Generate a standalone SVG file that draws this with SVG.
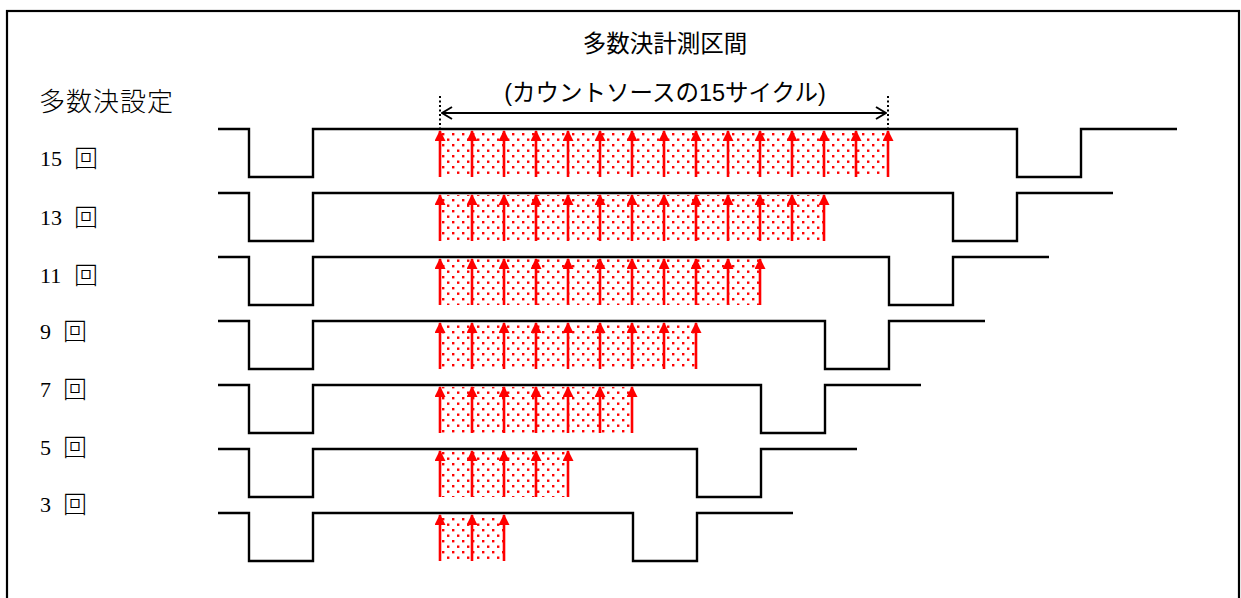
<svg xmlns="http://www.w3.org/2000/svg" width="1241" height="598" viewBox="0 0 1241 598">
<style>
.wave{fill:none;stroke:#000;stroke-width:2.4;stroke-linejoin:miter}
.clk{stroke:#f00;stroke-width:2.6;fill:none}
.lbl{font-family:"Liberation Serif","Noto Sans CJK JP",serif;font-size:22px;fill:#000}
.k{font-family:"Noto Sans CJK JP",serif;font-size:24px;font-weight:300}
.hdr{font-family:"Noto Sans CJK JP","Liberation Serif",serif;font-size:26px;font-weight:300;letter-spacing:1px;fill:#000}
.ttl{font-family:"Liberation Sans","Noto Sans CJK JP",sans-serif;font-size:23.5px;fill:#000;text-anchor:middle}
.dot{stroke:#000;stroke-width:2;stroke-dasharray:2,2.5}
.dim{stroke:#000;stroke-width:2.2;fill:none}
</style>
<defs>
<pattern id="dots" width="10" height="11" patternUnits="userSpaceOnUse" x="440" y="0">
<rect x="2" y="1" width="2.4" height="2.4" fill="#f00"/>
<rect x="7" y="6.5" width="2.4" height="2.4" fill="#f00"/>
</pattern>
<marker id="ah" viewBox="0 0 10 10" refX="9" refY="5" markerWidth="12" markerHeight="11" markerUnits="userSpaceOnUse" orient="auto">
<path d="M0,0 L10,5 L0,10 Z" fill="#f00"/>
</marker>
<marker id="open" viewBox="0 0 12 14" refX="11" refY="7" markerWidth="12" markerHeight="14" markerUnits="userSpaceOnUse" orient="auto-start-reverse">
<path d="M1,1 L11,7 L1,13" fill="none" stroke="#000" stroke-width="2"/>
</marker>
</defs>
<rect x="7" y="11" width="1232" height="600" fill="#fff" stroke="#000" stroke-width="2.2"/>
<g id="titles">
<text class="ttl" x="665" y="52">多数決計測区間</text>
<text class="ttl" x="665" y="101">(カウントソースの15サイクル)</text>
<text class="hdr" x="39" y="111">多数決設定</text>
</g>
<g id="dimension">
<line class="dot" x1="440" y1="96" x2="440" y2="128"/>
<line class="dot" x1="888" y1="96" x2="888" y2="128"/>
<line class="dim" x1="442" y1="113" x2="886" y2="113" marker-start="url(#open)" marker-end="url(#open)"/>
</g>
<g id="row15">
<text class="lbl" x="40" y="166">15<tspan class="k" x="74" y="167">回</tspan></text>
<rect x="440" y="131" width="448" height="46" fill="url(#dots)"/>
<path class="wave" d="M218,129 H249 V177 H313 V129 H1017 V177 H1081 V129 H1177"/>
<g class="clk"><line x1="440" y1="177" x2="440" y2="131" marker-end="url(#ah)"/><line x1="472" y1="177" x2="472" y2="131" marker-end="url(#ah)"/><line x1="504" y1="177" x2="504" y2="131" marker-end="url(#ah)"/><line x1="536" y1="177" x2="536" y2="131" marker-end="url(#ah)"/><line x1="568" y1="177" x2="568" y2="131" marker-end="url(#ah)"/><line x1="600" y1="177" x2="600" y2="131" marker-end="url(#ah)"/><line x1="632" y1="177" x2="632" y2="131" marker-end="url(#ah)"/><line x1="664" y1="177" x2="664" y2="131" marker-end="url(#ah)"/><line x1="696" y1="177" x2="696" y2="131" marker-end="url(#ah)"/><line x1="728" y1="177" x2="728" y2="131" marker-end="url(#ah)"/><line x1="760" y1="177" x2="760" y2="131" marker-end="url(#ah)"/><line x1="792" y1="177" x2="792" y2="131" marker-end="url(#ah)"/><line x1="824" y1="177" x2="824" y2="131" marker-end="url(#ah)"/><line x1="856" y1="177" x2="856" y2="131" marker-end="url(#ah)"/><line x1="888" y1="177" x2="888" y2="131" marker-end="url(#ah)"/></g>
</g>
<g id="row13">
<text class="lbl" x="40" y="225">13<tspan class="k" x="74" y="226">回</tspan></text>
<rect x="440" y="195" width="384" height="46" fill="url(#dots)"/>
<path class="wave" d="M218,193 H249 V241 H313 V193 H953 V241 H1017 V193 H1113"/>
<g class="clk"><line x1="440" y1="241" x2="440" y2="195" marker-end="url(#ah)"/><line x1="472" y1="241" x2="472" y2="195" marker-end="url(#ah)"/><line x1="504" y1="241" x2="504" y2="195" marker-end="url(#ah)"/><line x1="536" y1="241" x2="536" y2="195" marker-end="url(#ah)"/><line x1="568" y1="241" x2="568" y2="195" marker-end="url(#ah)"/><line x1="600" y1="241" x2="600" y2="195" marker-end="url(#ah)"/><line x1="632" y1="241" x2="632" y2="195" marker-end="url(#ah)"/><line x1="664" y1="241" x2="664" y2="195" marker-end="url(#ah)"/><line x1="696" y1="241" x2="696" y2="195" marker-end="url(#ah)"/><line x1="728" y1="241" x2="728" y2="195" marker-end="url(#ah)"/><line x1="760" y1="241" x2="760" y2="195" marker-end="url(#ah)"/><line x1="792" y1="241" x2="792" y2="195" marker-end="url(#ah)"/><line x1="824" y1="241" x2="824" y2="195" marker-end="url(#ah)"/></g>
</g>
<g id="row11">
<text class="lbl" x="40" y="283">11<tspan class="k" x="74" y="284">回</tspan></text>
<rect x="440" y="259" width="320" height="46" fill="url(#dots)"/>
<path class="wave" d="M218,257 H249 V305 H313 V257 H889 V305 H953 V257 H1049"/>
<g class="clk"><line x1="440" y1="305" x2="440" y2="259" marker-end="url(#ah)"/><line x1="472" y1="305" x2="472" y2="259" marker-end="url(#ah)"/><line x1="504" y1="305" x2="504" y2="259" marker-end="url(#ah)"/><line x1="536" y1="305" x2="536" y2="259" marker-end="url(#ah)"/><line x1="568" y1="305" x2="568" y2="259" marker-end="url(#ah)"/><line x1="600" y1="305" x2="600" y2="259" marker-end="url(#ah)"/><line x1="632" y1="305" x2="632" y2="259" marker-end="url(#ah)"/><line x1="664" y1="305" x2="664" y2="259" marker-end="url(#ah)"/><line x1="696" y1="305" x2="696" y2="259" marker-end="url(#ah)"/><line x1="728" y1="305" x2="728" y2="259" marker-end="url(#ah)"/><line x1="760" y1="305" x2="760" y2="259" marker-end="url(#ah)"/></g>
</g>
<g id="row9">
<text class="lbl" x="40" y="339">9<tspan class="k" x="63" y="340">回</tspan></text>
<rect x="440" y="323" width="256" height="46" fill="url(#dots)"/>
<path class="wave" d="M218,321 H249 V369 H313 V321 H825 V369 H889 V321 H985"/>
<g class="clk"><line x1="440" y1="369" x2="440" y2="323" marker-end="url(#ah)"/><line x1="472" y1="369" x2="472" y2="323" marker-end="url(#ah)"/><line x1="504" y1="369" x2="504" y2="323" marker-end="url(#ah)"/><line x1="536" y1="369" x2="536" y2="323" marker-end="url(#ah)"/><line x1="568" y1="369" x2="568" y2="323" marker-end="url(#ah)"/><line x1="600" y1="369" x2="600" y2="323" marker-end="url(#ah)"/><line x1="632" y1="369" x2="632" y2="323" marker-end="url(#ah)"/><line x1="664" y1="369" x2="664" y2="323" marker-end="url(#ah)"/><line x1="696" y1="369" x2="696" y2="323" marker-end="url(#ah)"/></g>
</g>
<g id="row7">
<text class="lbl" x="40" y="397">7<tspan class="k" x="63" y="398">回</tspan></text>
<rect x="440" y="387" width="192" height="46" fill="url(#dots)"/>
<path class="wave" d="M218,385 H249 V433 H313 V385 H761 V433 H825 V385 H921"/>
<g class="clk"><line x1="440" y1="433" x2="440" y2="387" marker-end="url(#ah)"/><line x1="472" y1="433" x2="472" y2="387" marker-end="url(#ah)"/><line x1="504" y1="433" x2="504" y2="387" marker-end="url(#ah)"/><line x1="536" y1="433" x2="536" y2="387" marker-end="url(#ah)"/><line x1="568" y1="433" x2="568" y2="387" marker-end="url(#ah)"/><line x1="600" y1="433" x2="600" y2="387" marker-end="url(#ah)"/><line x1="632" y1="433" x2="632" y2="387" marker-end="url(#ah)"/></g>
</g>
<g id="row5">
<text class="lbl" x="40" y="455">5<tspan class="k" x="63" y="456">回</tspan></text>
<rect x="440" y="451" width="128" height="46" fill="url(#dots)"/>
<path class="wave" d="M218,449 H249 V497 H313 V449 H697 V497 H761 V449 H857"/>
<g class="clk"><line x1="440" y1="497" x2="440" y2="451" marker-end="url(#ah)"/><line x1="472" y1="497" x2="472" y2="451" marker-end="url(#ah)"/><line x1="504" y1="497" x2="504" y2="451" marker-end="url(#ah)"/><line x1="536" y1="497" x2="536" y2="451" marker-end="url(#ah)"/><line x1="568" y1="497" x2="568" y2="451" marker-end="url(#ah)"/></g>
</g>
<g id="row3">
<text class="lbl" x="40" y="512">3<tspan class="k" x="63" y="513">回</tspan></text>
<rect x="440" y="515" width="64" height="46" fill="url(#dots)"/>
<path class="wave" d="M218,513 H249 V561 H313 V513 H633 V561 H697 V513 H793"/>
<g class="clk"><line x1="440" y1="561" x2="440" y2="515" marker-end="url(#ah)"/><line x1="472" y1="561" x2="472" y2="515" marker-end="url(#ah)"/><line x1="504" y1="561" x2="504" y2="515" marker-end="url(#ah)"/></g>
</g>
</svg>
